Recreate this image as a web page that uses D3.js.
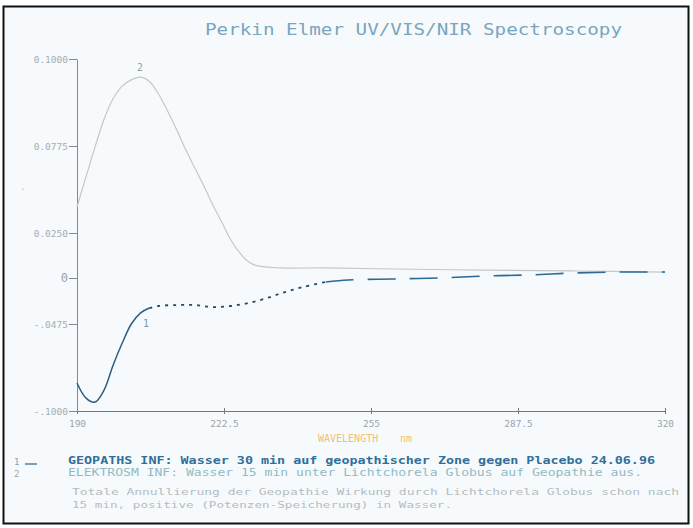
<!DOCTYPE html>
<html><head><meta charset="utf-8">
<script src="https://cdn.jsdelivr.net/npm/d3@7"></script>
<style>body{margin:0;background:#fff}svg{display:block}</style>
</head><body>
<script>
const title = "Perkin Elmer UV/VIS/NIR Spectroscopy";
const xTicks = [190, 222.5, 255, 287.5, 320];
const xTickLabels = ["190", "222.5", "255", "287.5", "320"];
const yTicks = [0.1, 0.0775, 0.025, 0, -0.0475, -0.1];
const yTickLabels = ["0.1000", "0.0775", "0.0250", "0", "-.0475", "-.1000"];
const xLabel = ["WAVELENGTH", "nm"];

const wl2 = [190,192,194,196,198,200,202,204,206,208,210,212,214,216,218,220,222,224,226,228,230,235,245,260,280,300,320];
const abs2 = [0.0407,0.0590,0.0770,0.0845,0.0898,0.0930,0.0946,0.0953,0.0942,0.0910,0.0866,0.0818,0.0755,0.0645,0.0536,0.0420,0.0316,0.0211,0.0139,0.0089,0.0067,0.0056,0.0056,0.0050,0.0044,0.0039,0.0033];

const wl1 = [190,192,194,196,198,200,202,204,206,208,212,216,220,224,228,232,236,240,245,250,260,270,280,290,300,310,320];
const abs1 = [-0.0831,-0.0922,-0.0946,-0.0873,-0.0722,-0.0590,-0.0475,-0.0362,-0.0310,-0.0289,-0.0279,-0.0279,-0.0300,-0.0289,-0.0258,-0.0207,-0.0145,-0.0093,-0.0041,-0.0021,-0.0010,0.0000,0.0011,0.0017,0.0028,0.0033,0.0033];

const legend1 = "GEOPATHS  INF: Wasser 30 min auf geopathischer Zone gegen Placebo 24.06.96";
const legend2 = "ELEKTROSM  INF: Wasser 15 min unter Lichtchorela Globus auf Geopathie aus.";
const note1 = "Totale Annullierung der Geopathie Wirkung durch Lichtchorela Globus schon nach";
const note2 = "15 min, positive (Potenzen-Speicherung) in Wasser.";

const W = 693, H = 528;
const svg = d3.select("body").append("svg").attr("width", W).attr("height", H);
const mono = "'DejaVu Sans Mono', 'Liberation Mono', monospace";

svg.append("rect").attr("x", 3.5).attr("y", 6.5).attr("width", 685).attr("height", 517)
  .attr("fill", "#f7fafc").attr("stroke", "#111").attr("stroke-width", 2);

const x = d3.scaleLinear().domain([190, 320]).range([77, 665]);
const y = d3.scaleLinear().domain(yTicks).range([59, 146, 233, 278, 324, 411]);

svg.append("text").attr("x", 205).attr("y", 35).attr("textLength", 417)
  .attr("lengthAdjust", "spacingAndGlyphs")
  .attr("font-family", mono).attr("font-size", 15).attr("fill", "#78a6be").text(title);

// axes
const gx = svg.append("g").attr("transform", "translate(0,411)")
  .call(d3.axisBottom(x).tickValues(xTicks).tickFormat((d, i) => xTickLabels[i]).tickSize(4).tickSizeOuter(0));
gx.select(".domain").attr("stroke", "#777");
gx.selectAll(".tick line").attr("stroke", "#777").attr("y1", -3).attr("y2", 3);
gx.selectAll(".tick text").attr("font-family", mono).attr("font-size", 9.5).attr("fill", "#9aa4aa").attr("dy", "0.9em");

const gy = svg.append("g").attr("transform", "translate(77,0)")
  .call(d3.axisLeft(y).tickValues(yTicks).tickFormat((d, i) => yTickLabels[i]).tickSize(8).tickSizeOuter(0));
gy.select(".domain").attr("stroke", "#888");
gy.selectAll(".tick line").attr("stroke", "#888");
gy.selectAll(".tick text").attr("font-family", mono).attr("font-size", 9.5).attr("fill", "#a4acb2").attr("x", -9);
gy.selectAll(".tick text").filter((d) => d === 0).attr("font-size", 12).attr("fill", "#9aa4aa");

svg.append("text").attr("x", 20).attr("y", 195).attr("font-family", mono).attr("font-size", 9)
  .attr("fill", "#b8c0c4").text("'");

svg.append("text").attr("x", 318).attr("y", 442).attr("font-family", mono).attr("font-size", 10)
  .attr("fill", "#f0c070").text(xLabel[0]);
svg.append("text").attr("x", 400).attr("y", 442).attr("font-family", mono).attr("font-size", 10)
  .attr("fill", "#f0c070").text(xLabel[1]);

// curves
const line = d3.line().x(d => x(d[0])).y(d => y(d[1])).curve(d3.curveCatmullRom.alpha(0.5));
const d2 = wl2.map((w, i) => [w, abs2[i]]);
const d1 = wl1.map((w, i) => [w, abs1[i]]);

svg.append("path").datum(d2).attr("d", line).attr("fill", "none")
  .attr("stroke", "#c4c8ca").attr("stroke-width", 1.2);

svg.append("path").datum(d1.filter(d => d[0] <= 206)).attr("d", line).attr("fill", "none")
  .attr("stroke", "#2d5f80").attr("stroke-width", 1.5);
svg.append("path").datum(d1.filter(d => d[0] >= 206 && d[0] <= 245)).attr("d", line).attr("fill", "none")
  .attr("stroke", "#1f4a66").attr("stroke-width", 1.8).attr("stroke-dasharray", "3,5");
svg.append("path").datum(d1.filter(d => d[0] >= 245)).attr("d", line).attr("fill", "none")
  .attr("stroke", "#2b6a94").attr("stroke-width", 1.6).attr("stroke-dasharray", "28,14");

svg.append("text").attr("x", 137).attr("y", 71).attr("font-family", mono).attr("font-size", 10)
  .attr("fill", "#9aa0a4").text("2");
svg.append("text").attr("x", 143).attr("y", 327).attr("font-family", mono).attr("font-size", 10)
  .attr("fill", "#7a9aae").text("1");

// legend
svg.append("text").attr("x", 14).attr("y", 465).attr("font-family", mono).attr("font-size", 9).attr("fill", "#8aa0b0").text("1");
svg.append("line").attr("x1", 25).attr("x2", 37).attr("y1", 464).attr("y2", 464).attr("stroke", "#2d5f80").attr("stroke-width", 1.2);
svg.append("text").attr("x", 14).attr("y", 477).attr("font-family", mono).attr("font-size", 9).attr("fill", "#a0a8ac").text("2");

svg.append("text").attr("x", 68).attr("y", 464).attr("textLength", 587).attr("lengthAdjust", "spacingAndGlyphs")
  .attr("font-family", mono).attr("font-size", 10).attr("font-weight", "bold").attr("fill", "#2f6f9a").text(legend1);
svg.append("text").attr("x", 68).attr("y", 476).attr("textLength", 574).attr("lengthAdjust", "spacingAndGlyphs")
  .attr("font-family", mono).attr("font-size", 10).attr("fill", "#8fbcc4").text(legend2);
svg.append("text").attr("x", 72).attr("y", 495).attr("textLength", 607).attr("lengthAdjust", "spacingAndGlyphs")
  .attr("font-family", mono).attr("font-size", 9).attr("fill", "#b4bcc2").text(note1);
svg.append("text").attr("x", 72).attr("y", 508).attr("textLength", 380).attr("lengthAdjust", "spacingAndGlyphs")
  .attr("font-family", mono).attr("font-size", 9).attr("fill", "#b4bcc2").text(note2);
</script>
</body></html>
